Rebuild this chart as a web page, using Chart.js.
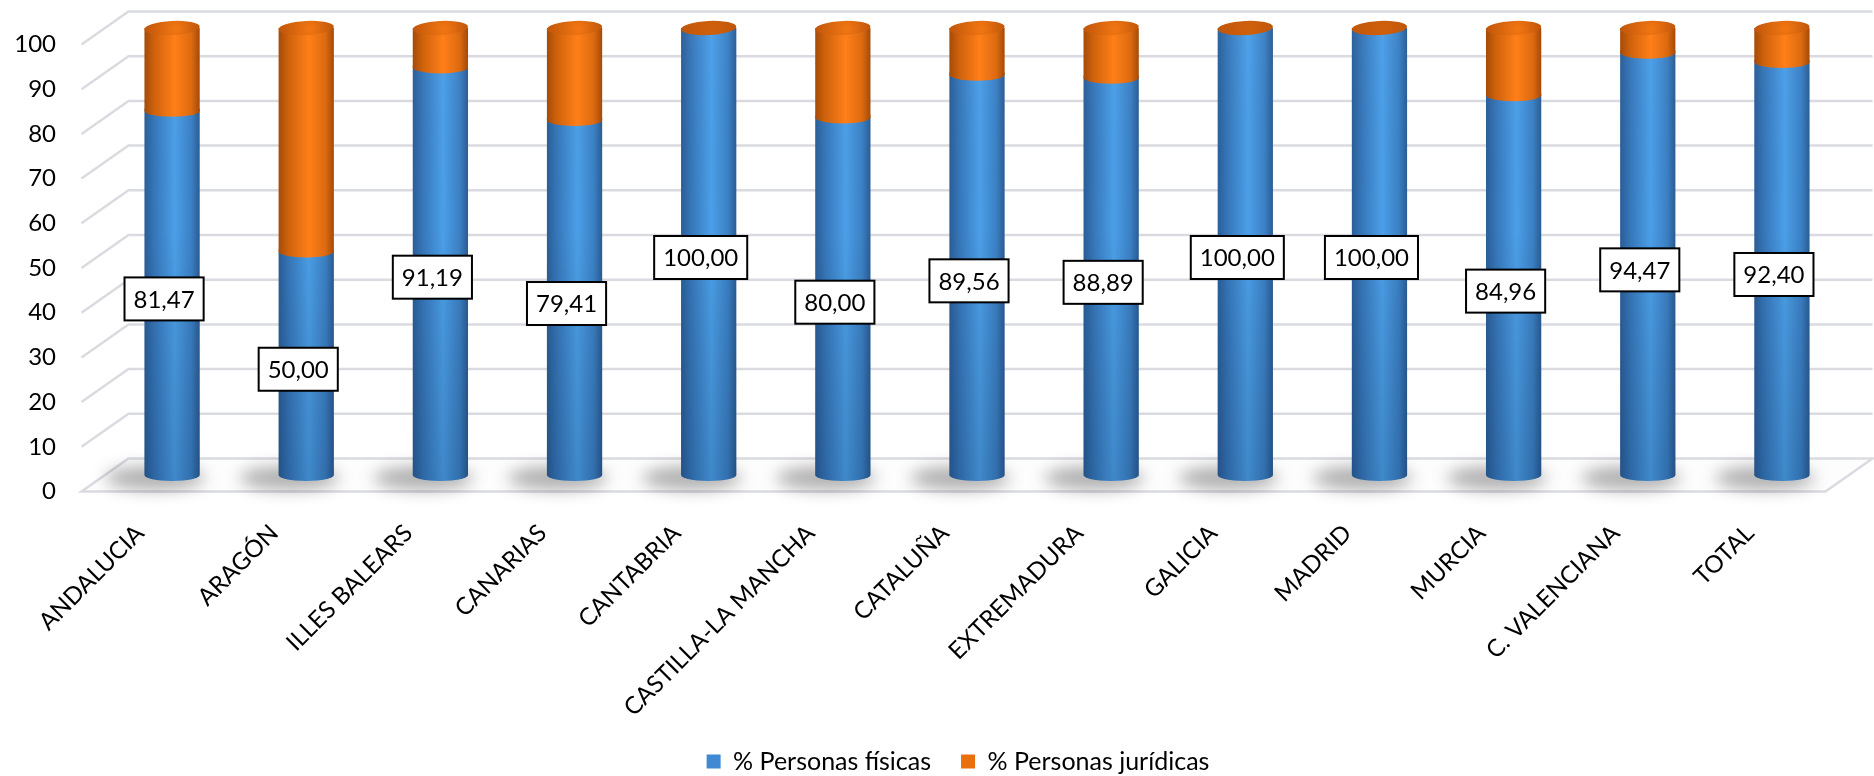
<!DOCTYPE html>
<html><head><meta charset="utf-8">
<script src="https://cdn.jsdelivr.net/npm/chart.js@4"></script>
<style>html,body{margin:0;padding:0;background:#fff}#wrap{width:1874px;height:776px}</style>
</head><body><div id="wrap"><canvas id="c" width="1874" height="776"></canvas></div>
<script>
const categories = ['ANDALUCIA','ARAGÓN','ILLES BALEARS','CANARIAS','CANTABRIA','CASTILLA-LA MANCHA','CATALUÑA','EXTREMADURA','GALICIA','MADRID','MURCIA','C. VALENCIANA','TOTAL'];
const personasFisicas = [81.47,50.00,91.19,79.41,100.00,80.00,89.56,88.89,100.00,100.00,84.96,94.47,92.40];
const personasJuridicas = [18.53,50.00,8.81,20.59,0,20.00,10.44,11.11,0,0,15.04,5.53,7.60];
const yTicks = [0,10,20,30,40,50,60,70,80,90,100];
const seriesNames = ['% Personas físicas','% Personas jurídicas'];

const FONT = 'Lato';
const DX = 23.5, DY = 16.5, BAR_PCT = 0.412;
const BLUE_STOPS = [[0,'#2a5e97'],[0.18,'#3676b9'],[0.55,'#4b9fe8'],[0.85,'#3b80c4'],[1,'#2a5c94']];
const ORANGE_STOPS = [[0,'#a54b08'],[0.18,'#cf620c'],[0.55,'#ff7f18'],[0.85,'#dc6a10'],[1,'#a44a08']];

function hGrad(c2d, cx, hw, stops) {
  const g = c2d.createLinearGradient(cx - hw, 0, cx + hw, 0);
  stops.forEach(s => g.addColorStop(s[0], s[1]));
  return g;
}
function scriptFill(stops, fallback) {
  return (ctx) => {
    const chart = ctx.chart;
    if (ctx.type !== 'data' || !chart.chartArea) return fallback;
    const xs = chart.scales.x;
    const cx = xs.getPixelForValue(ctx.dataIndex);
    const hw = (xs.width / categories.length) * BAR_PCT / 2;
    return hGrad(chart.ctx, cx, hw, stops);
  };
}
function fmt(v) { return v.toFixed(2).replace('.', ','); }

const decor = {
  id: 'decor',
  beforeDatasetsDraw(chart) {
    const c = chart.ctx, ys = chart.scales.y, a = chart.chartArea;
    const fxL = a.left - DX, bxL = a.left + DX, fxR = a.right - DX, bxR = a.right + DX;
    const y0 = ys.getPixelForValue(0);
    c.save();
    c.beginPath();
    c.moveTo(fxL, y0 + DY); c.lineTo(bxL, y0 - DY); c.lineTo(bxR, y0 - DY); c.lineTo(fxR, y0 + DY); c.closePath();
    c.fillStyle = '#fdfdfd'; c.fill();
    c.strokeStyle = '#dadbe1'; c.lineWidth = 2.5; c.stroke();
    yTicks.forEach(v => {
      if (v === 0) return;
      const y = ys.getPixelForValue(v);
      c.beginPath(); c.moveTo(fxL, y + DY); c.lineTo(bxL, y - DY); c.lineTo(bxR, y - DY); c.stroke();
    });
    const meta = chart.getDatasetMeta(0);
    meta.data.forEach(el => {
      c.save();
      c.filter = 'blur(8px)';
      c.fillStyle = 'rgba(0,0,0,0.30)';
      c.beginPath();
      c.ellipse(el.x - 17, y0 + 3, el.width * 0.9, 12, 0, 0, 2 * Math.PI);
      c.fill();
      c.restore();
    });
    c.restore();
  },
  afterDatasetsDraw(chart) {
    const c = chart.ctx, a = chart.chartArea;
    const m0 = chart.getDatasetMeta(0), m1 = chart.getDatasetMeta(1);
    c.save();
    const shade = c.createLinearGradient(0, a.top, 0, a.bottom);
    shade.addColorStop(0, 'rgba(255,255,255,0.02)');
    shade.addColorStop(0.45, 'rgba(0,0,0,0.0)');
    shade.addColorStop(1, 'rgba(0,20,50,0.16)');
    m0.data.forEach((el, i) => {
      const cx = el.x, hw = el.width / 2;
      // bottom cap
      c.beginPath(); c.ellipse(cx, el.base, hw, 6, 0, 0, Math.PI);
      c.fillStyle = hGrad(c, cx, hw, BLUE_STOPS); c.fill();
      // vertical shading of the blue cylinder
      c.beginPath(); c.rect(cx - hw, el.y, hw * 2, el.base - el.y); c.ellipse(cx, el.base, hw, 6, 0, 0, Math.PI);
      c.fillStyle = shade; c.fill();
      // boundary arc
      if (personasJuridicas[i] > 0) {
        c.beginPath();
        c.moveTo(cx - hw, el.y - 2); c.lineTo(cx + hw, el.y - 2); c.lineTo(cx + hw, el.y);
        c.ellipse(cx, el.y, hw, 6, 0, 0, Math.PI);
        c.closePath();
        c.fillStyle = hGrad(c, cx, hw, ORANGE_STOPS); c.fill();
      }
      // top cap
      const el1 = m1.data[i];
      const ty = el1.y;
      const rg = c.createRadialGradient(cx + 4, ty + 1, 2, cx, ty, hw);
      rg.addColorStop(0, personasJuridicas[i] > 0 ? '#f07512' : '#cf600c');
      rg.addColorStop(1, '#c0560a');
      c.beginPath(); c.ellipse(cx, ty, hw, 7, -0.05, 0, 2 * Math.PI);
      c.fillStyle = rg; c.fill();
    });
    // data labels
    c.font = `24px ${FONT}`;
    c.textAlign = 'center'; c.textBaseline = 'middle';
    m0.data.forEach((el, i) => {
      const txt = fmt(personasFisicas[i]);
      const w = c.measureText(txt).width + 18, h = 43;
      const cx = el.x - 8, cy = (el.y + el.base) / 2 + 6;
      c.fillStyle = '#fff';
      c.fillRect(cx - w / 2, cy - h / 2, w, h);
      c.strokeStyle = '#000'; c.lineWidth = 2;
      c.strokeRect(cx - w / 2, cy - h / 2, w, h);
      c.fillStyle = '#000';
      c.fillText(txt, cx, cy + 1);
    });
    // y tick labels
    const ys = chart.scales.y;
    c.textAlign = 'right';
    yTicks.forEach(v => {
      c.fillText(String(v), 56, ys.getPixelForValue(v) + DY);
    });
    c.restore();
  }
};

new Chart(document.getElementById('c'), {
  type: 'bar',
  data: {
    labels: categories,
    datasets: [
      { label: seriesNames[0], data: personasFisicas, backgroundColor: scriptFill(BLUE_STOPS, '#3f8ad2'), borderWidth: 0 },
      { label: seriesNames[1], data: personasJuridicas, backgroundColor: scriptFill(ORANGE_STOPS, '#e8700f'), borderWidth: 0 }
    ]
  },
  plugins: [decor],
  options: {
    responsive: false,
    devicePixelRatio: 1,
    animation: false,
    layout: { padding: { left: 67, right: 25, top: 28, bottom: -8 } },
    datasets: { bar: { categoryPercentage: 1, barPercentage: BAR_PCT } },
    scales: {
      x: {
        stacked: true,
        grid: { display: false },
        border: { display: false },
        ticks: { font: { family: FONT, size: 24 }, color: '#000', minRotation: 45, maxRotation: 45, labelOffset: -32, padding: 36, autoSkip: false },
        afterFit(scale) { scale.height = 244; }
      },
      y: {
        stacked: true, min: 0, max: 100,
        grid: { display: false }, border: { display: false },
        ticks: { display: false },
        afterFit(scale) { scale.width = 38; }
      }
    },
    plugins: {
      legend: {
        position: 'bottom',
        labels: {
          font: { family: FONT, size: 25 }, color: '#000', boxWidth: 14, boxHeight: 14, padding: 30,
          generateLabels: () => seriesNames.map((n, i) => ({ text: n, fillStyle: i === 0 ? '#3f8ad2' : '#e8700f', strokeStyle: 'rgba(0,0,0,0)', lineWidth: 0, hidden: false, datasetIndex: i }))
        }
      },
      tooltip: { enabled: false }
    }
  }
});
</script>
</body></html>
